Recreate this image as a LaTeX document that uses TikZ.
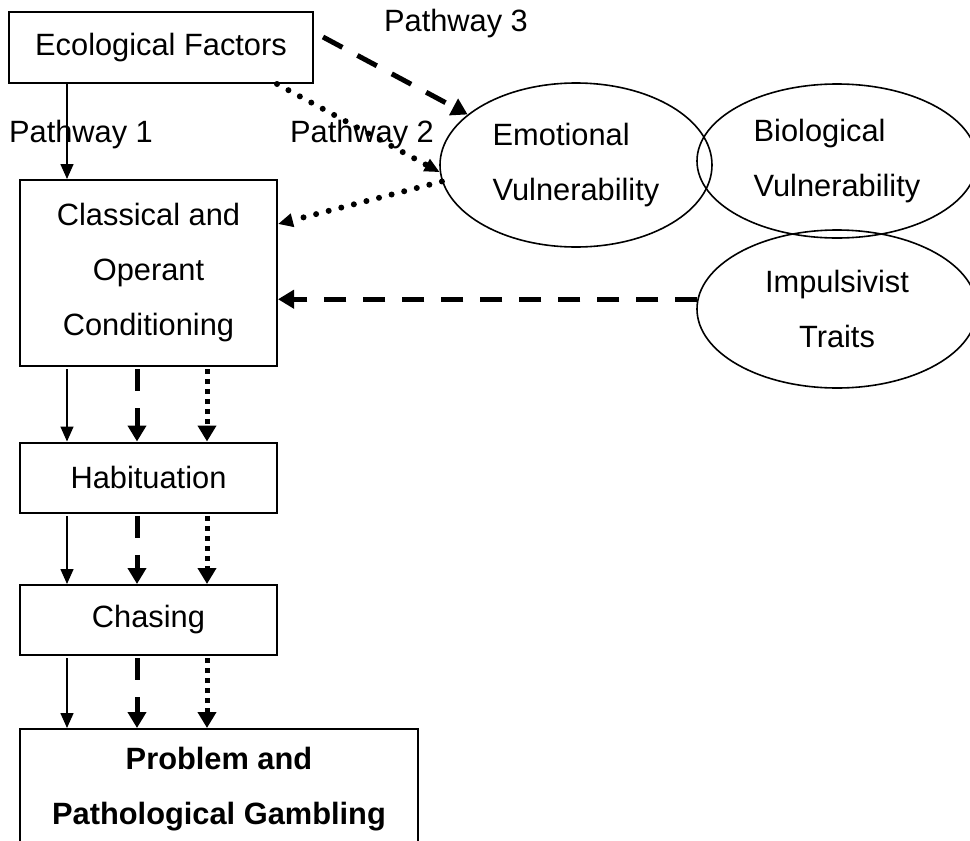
\documentclass[tikz,border=0pt]{standalone}
\usepackage{fontspec}
\setmainfont{Liberation Sans}
\usetikzlibrary{arrows.meta,shapes.geometric}
\begin{document}
\begin{tikzpicture}[x=0.5pt,y=-0.5pt,
  txt/.style={font=\fontsize{15.4}{27.5}\selectfont},
  box/.style={txt,draw,line width=1pt,rectangle,inner sep=0pt,align=center},
  oval/.style={txt,draw,line width=0.8pt,ellipse,inner sep=0pt},
  lbl/.style={txt,inner sep=0pt},
  thintip/.style={-{Triangle[length=7.5pt,width=6.5pt]}},
  thicktip/.style={-{Triangle[length=8pt,width=9pt]}},
  solidarr/.style={thintip,line width=0.75pt},
  dasharr/.style={thicktip,line width=2.5pt,dash pattern=on 11pt off 8.5pt},
  dotarr/.style={thicktip,line width=2.5pt,dash pattern=on 2.5pt off 2.5pt},
  rdotarr/.style={thintip,line width=3pt,line cap=round,dash pattern=on 0pt off 6.5pt},
]
\useasboundingbox (0,0) rectangle (970,841);
\clip (0,0) rectangle (970,841);

% boxes
\node[box,minimum width=152pt,minimum height=35.5pt] (eco) at (161,47.5) {Ecological Factors};
\node[box,minimum width=128.5pt,minimum height=93pt] (cls) at (148.5,273) {Classical and\\Operant\\Conditioning};
\node[box,minimum width=128.5pt,minimum height=35pt] (hab) at (148.5,477.5) {Habituation};
\node[box,minimum width=128.5pt,minimum height=35pt] (cha) at (148.5,620) {Chasing};
\node[box,minimum width=199pt,minimum height=60pt,font=\fontsize{15.4}{27.5}\selectfont\bfseries] (pg) at (219,789) {Problem and\\Pathological Gambling};

% ellipses
\node[oval,minimum width=136pt,minimum height=82pt,align=left] (emo) at (576,165) {Emotional\\Vulnerability};
\node[oval,minimum width=140pt,minimum height=77pt,align=left] (bio) at (837,161) {Biological\\Vulnerability};
\node[oval,minimum width=140pt,minimum height=79pt,align=center] (imp) at (837,309) {Impulsivist\\Traits};

% labels
\node[lbl] (p1) at (81,135) {Pathway 1};
\node[lbl] (p2) at (362,135) {Pathway 2};
\node[lbl] (p3) at (456,24) {Pathway 3};

% helper coordinates
\coordinate (k1) at (67,0);
\coordinate (k2) at (137,0);
\coordinate (k3) at (207,0);
\coordinate (k4) at (277,0);
\coordinate (k5) at (0,224);
\coordinate (p3s) at (323,37);

% pathway 1
\draw[solidarr] (k1 |- eco.south) -- (k1 |- cls.north);
% pathway 3
\draw[dasharr] (p3s) -- (emo.155);
% pathway 2
\draw[rdotarr] (k4 |- eco.south) -- (emo.183);
\draw[rdotarr] (emo.187) -- (k5 -| cls.east);
% impulsivist
\draw[dasharr] (imp.176) -- (imp.176 -| cls.east);

% vertical chain
\foreach \a/\b in {cls/hab,hab/cha,cha/pg}{
  \draw[solidarr] ([yshift=-1.2pt]k1 |- \a.south) -- (k1 |- \b.north);
  \draw[dasharr] ([yshift=-1.2pt]k2 |- \a.south) -- (k2 |- \b.north);
  \draw[dotarr] ([yshift=-1.2pt]k3 |- \a.south) -- (k3 |- \b.north);
}
\end{tikzpicture}
\end{document}
